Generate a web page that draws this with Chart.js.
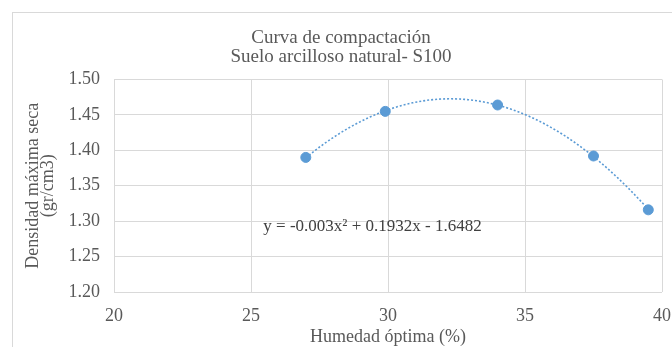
<!DOCTYPE html>
<html>
<head>
<meta charset="utf-8">
<script src="https://cdn.jsdelivr.net/npm/chart.js@4"></script>
<style>
  html, body { margin: 0; padding: 0; background: #ffffff; }
  #wrap { position: relative; width: 672px; height: 347px; }
</style>
</head>
<body>
<div id="wrap"><canvas id="c" width="672" height="347"></canvas></div>
<script>
// ---- data ----
const humedad = [27.0, 29.9, 34.0, 37.5, 39.5];          // Humedad óptima (%)
const densidad = [1.390, 1.455, 1.464, 1.392, 1.316];    // Densidad máxima seca (gr/cm3)
const titleLines = ['Curva de compactación', 'Suelo arcilloso natural- S100'];
const xTitle = 'Humedad óptima (%)';
const yTitleLines = ['Densidad máxima seca', '(gr/cm3)'];
const equationText = 'y = -0.003x\u00B2 + 0.1932x - 1.6482';
const equationAnchor = { x: 25.45, y: 1.293 };

// least-squares quadratic trendline computed from the data points
function quadFit(xs, ys) {
  let s = [0,0,0,0,0], t = [0,0,0];
  for (let i = 0; i < xs.length; i++) {
    let p = 1;
    for (let k = 0; k < 5; k++) { s[k] += p; p *= xs[i]; }
    t[0] += ys[i]; t[1] += ys[i]*xs[i]; t[2] += ys[i]*xs[i]*xs[i];
  }
  const M = [[s[0],s[1],s[2],t[0]],[s[1],s[2],s[3],t[1]],[s[2],s[3],s[4],t[2]]];
  for (let i = 0; i < 3; i++) {
    for (let j = i+1; j < 3; j++) {
      const f = M[j][i]/M[i][i];
      for (let k = i; k < 4; k++) M[j][k] -= f*M[i][k];
    }
  }
  const c = [0,0,0];
  for (let i = 2; i >= 0; i--) {
    let v = M[i][3];
    for (let k = i+1; k < 3; k++) v -= M[i][k]*c[k];
    c[i] = v/M[i][i];
  }
  return c; // c0 + c1 x + c2 x^2
}
const coef = quadFit(humedad, densidad);
const xmin = Math.min(...humedad), xmax = Math.max(...humedad);
const trend = [];
for (let i = 0; i <= 80; i++) {
  const x = xmin + (xmax - xmin) * i / 80;
  trend.push({ x: x, y: coef[0] + coef[1]*x + coef[2]*x*x });
}

const FONT = "'Liberation Serif', 'Times New Roman', serif";
const TXT = '#595959';
const GRID = '#d9d9d9';
const BLUE = '#5b9bd5';

const decor = {
  id: 'decor',
  beforeDraw(chart) {
    const ctx = chart.ctx;
    ctx.save();
    ctx.strokeStyle = '#d9d9d9';
    ctx.lineWidth = 1;
    ctx.strokeRect(12.5, 12.5, 700, 400);
    ctx.restore();
  },
  afterDatasetsDraw(chart) {
    const ctx = chart.ctx;
    const xs = chart.scales.x, ys = chart.scales.y;
    ctx.save();
    ctx.font = '17px ' + FONT;
    ctx.fillStyle = '#404040';
    ctx.textAlign = 'left';
    ctx.textBaseline = 'middle';
    ctx.fillText(equationText, xs.getPixelForValue(equationAnchor.x), ys.getPixelForValue(equationAnchor.y));
    ctx.restore();
  }
};

new Chart(document.getElementById('c'), {
  type: 'scatter',
  data: {
    datasets: [
      {
        label: 'Densidad',
        data: humedad.map((x, i) => ({ x: x, y: densidad[i] })),
        backgroundColor: BLUE,
        borderColor: BLUE,
        pointRadius: 5,
        pointHoverRadius: 5,
        showLine: false,
        order: 1
      },
      {
        label: 'Tendencia',
        data: trend,
        showLine: true,
        borderColor: BLUE,
        borderWidth: 1.6,
        borderDash: [2, 2],
        pointRadius: 0,
        fill: false,
        order: 2
      }
    ]
  },
  options: {
    responsive: false,
    animation: false,
    events: [],
    layout: { padding: { left: 12, right: 2, top: 0, bottom: 0 } },
    plugins: {
      legend: { display: false },
      tooltip: { enabled: false },
      title: {
        display: true,
        text: titleLines,
        color: TXT,
        font: { family: FONT, size: 19, weight: 'normal', lineHeight: 1.0 },
        padding: { top: 28.5, bottom: 13 }
      }
    },
    scales: {
      x: {
        type: 'linear',
        min: 20, max: 40,
        afterFit(s) { s.height = 55; s.paddingRight = 10; s.paddingLeft = 0; },
        border: { display: false },
        grid: { color: GRID, lineWidth: 1, drawTicks: false },
        ticks: {
          stepSize: 5, padding: 13, color: TXT,
          font: { family: FONT, size: 18 }
        },
        title: {
          display: true, text: xTitle, color: TXT,
          font: { family: FONT, size: 18, lineHeight: 1.0 },
          padding: { top: 0, bottom: 1 }
        }
      },
      y: {
        type: 'linear',
        min: 1.20, max: 1.50,
        afterFit(s) { s.width = 102; },
        border: { display: false },
        grid: { color: GRID, lineWidth: 1, drawTicks: false },
        ticks: {
          stepSize: 0.05, padding: 14, color: TXT,
          font: { family: FONT, size: 18 },
          callback: v => Number(v).toFixed(2)
        },
        title: {
          display: true, text: yTitleLines, color: TXT,
          font: { family: FONT, size: 18, lineHeight: 0.85 },
          padding: { top: 13.4, bottom: 0 }
        }
      }
    }
  },
  plugins: [decor]
});
</script>
</body>
</html>
